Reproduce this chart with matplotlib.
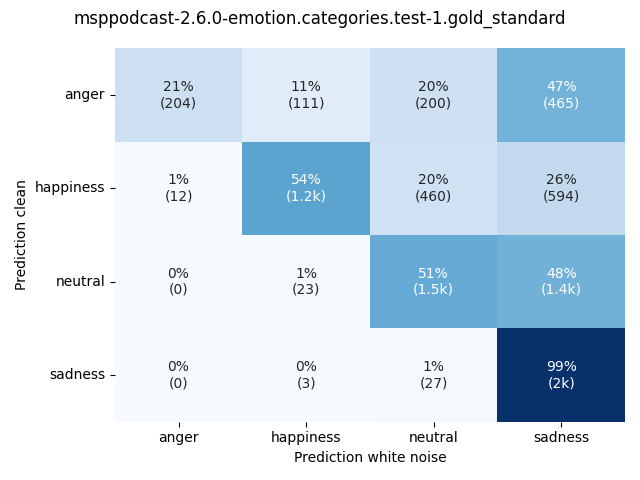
import numpy as np
import matplotlib
matplotlib.use("Agg")
import matplotlib.pyplot as plt
import seaborn as sns

labels = ["anger", "happiness", "neutral", "sadness"]

# counts: rows = prediction clean, columns = prediction white noise
counts = np.array([
    [204, 111, 200, 465],
    [12, 1230, 460, 594],
    [0, 23, 1490, 1400],
    [0, 3, 27, 2010],
])

title = "msppodcast-2.6.0-emotion.categories.test-1.gold_standard"


def fmt_count(v):
    if v >= 1000:
        s = f"{v / 1000:.1f}".rstrip("0").rstrip(".")
        return s + "k"
    return str(v)


perc = counts / counts.sum(axis=1, keepdims=True) * 100
annot = np.empty(counts.shape, dtype=object)
for i in range(counts.shape[0]):
    for j in range(counts.shape[1]):
        annot[i, j] = f"{perc[i, j]:.0f}%\n({fmt_count(counts[i, j])})"

fig, ax = plt.subplots(figsize=(6.4, 4.8), dpi=100)
sns.heatmap(perc, annot=annot, fmt="", cmap="Blues", cbar=False,
            xticklabels=labels, yticklabels=labels, ax=ax)
ax.set_yticklabels(labels, rotation=0)
ax.set_xlabel("Prediction white noise")
ax.set_ylabel("Prediction clean")
fig.suptitle(title)
plt.tight_layout()
plt.savefig("out.png")
